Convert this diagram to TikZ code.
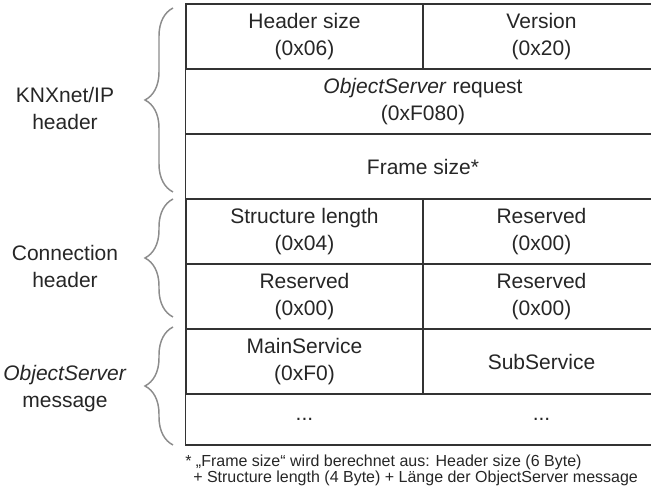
\documentclass[tikz,border=0pt]{standalone}
\usepackage{fontspec}
\setmainfont{Liberation Sans}
\usetikzlibrary{decorations.pathreplacing}

\begin{document}
\begin{tikzpicture}[x=0.75pt,y=-0.75pt,
    cell/.style={draw=black!80, line width=0.8pt, inner sep=0pt, align=center,
      minimum height=48.75pt, text=black!85, font=\fontsize{15.75}{20.25}\selectfont},
    half/.style={cell, minimum width=177.75pt},
    full/.style={cell, minimum width=356.25pt},
    grp/.style={draw=black!45, line width=1.1pt, decorate,
      decoration={brace, amplitude=21pt}},
    lbl/.style={align=center, text=black!85, font=\fontsize{15.75}{20.25}\selectfont},
    note/.style={anchor=base west, inner sep=0pt, text=black!85,
      font=\fontsize{12}{13}\selectfont}]

    \useasboundingbox (0,0) rectangle (651,488);
    \clip (0,0) rectangle (651,488);

    % KNXnet/IP header
    \node[half] (hsize) at (304.5,36.5) {Header size\\(0x06)};
    \node[half] (vers) at (541.5,36.5) {Version\\(0x20)};
    \node[full] (req) at (423,101.5) {\textit{ObjectServer} request\\(0xF080)};
    \node[full] (fsize) at (423,166.5) {Frame size*};

    % connection header
    \node[half] (slen) at (304.5,231.5) {Structure length\\(0x04)};
    \node[half] (resA) at (541.5,231.5) {Reserved\\(0x00)};
    \node[half] (resB) at (304.5,296.5) {Reserved\\(0x00)};
    \node[half] (resC) at (541.5,296.5) {Reserved\\(0x00)};

    % ObjectServer message
    \node[half] (mainsvc) at (304.5,361.5) {MainService\\(0xF0)};
    \node[half] (subsvc) at (541.5,361.5) {SubService};
    \node[full, minimum height=38.25pt] (rest) at (423,419.5) {};
    \node[lbl] (dotsA) at (304.5,419.5) {...};
    \node[lbl] (dotsB) at (541.5,419.5) {...};

    \draw[grp] (173,192) -- (173,8);
    \draw[grp] (173,317) -- (173,199);
    \draw[grp] (173,445) -- (173,327);

    \node[lbl] (knx) at (65,108) {KNXnet/IP\\header};
    \node[lbl] (conn) at (65,266) {Connection\\header};
    \node[lbl] (osmsg) at (65,389) {\textit{ObjectServer}\\message};

    \node[note] (fnA) at (185,467) {* „Frame size“ wird berechnet aus: Header size (6 Byte)};
    \node[note] (fnB) at (193,483) {+ Structure length (4 Byte) + Länge der ObjectServer message};
\end{tikzpicture}
\end{document}
